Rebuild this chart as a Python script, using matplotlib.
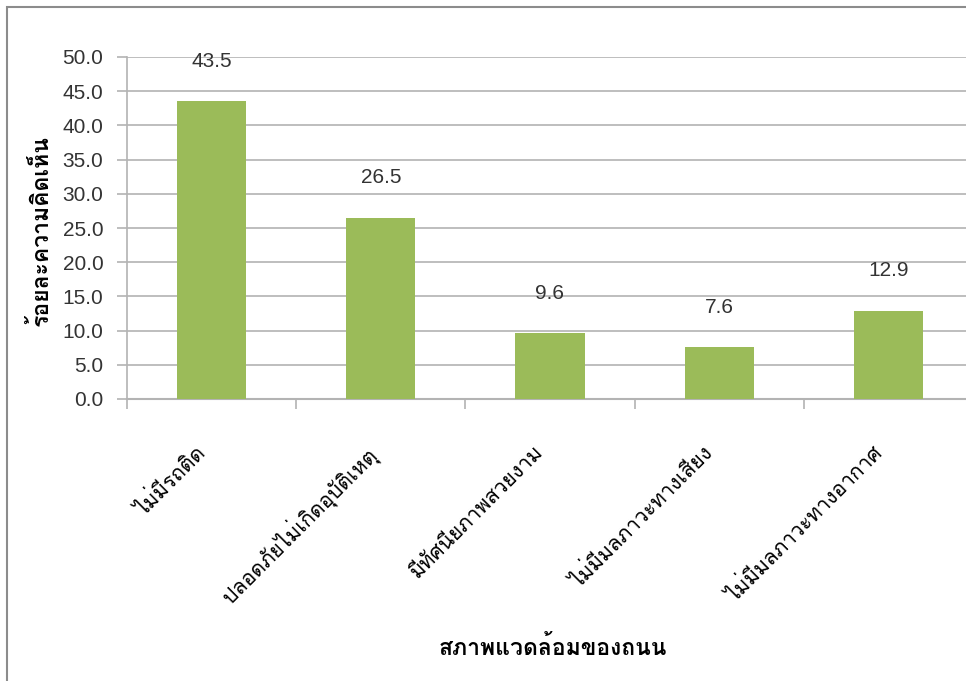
import matplotlib
matplotlib.use("Agg")
import matplotlib.pyplot as plt
import matplotlib.transforms as mtransforms
from matplotlib.patches import Rectangle
import numpy as np

categories = [
    'ไม่มีรถติด',
    'ปลอดภัยไม่เกิดอุบัติเหตุ',
    'มีทัศนียภาพสวยงาม',
    'ไม่มีมลภาวะทางเสียง',
    'ไม่มีมลภาวะทางอากาศ',
]
values = [43.5, 26.5, 9.6, 7.6, 12.9]
y_ticks = [0, 5, 10, 15, 20, 25, 30, 35, 40, 45, 50]

x_title = 'สภาพแวดล้อมของถนน'
y_title = 'ร้อยละความคิดเห็น'

bar_color = '#9BBB59'
grid_color = '#B3B3B3'
text_color = '#333333'
num_font = ['Liberation Sans', 'DejaVu Sans']
thai_font = ['Loma', 'DejaVu Sans']

fig = plt.figure(figsize=(9.66, 6.81), dpi=100)
W, H = 966, 681

# outer chart border (only top and left edges fall inside the image)
fig.patches.append(Rectangle((7 / W, -0.1), 1.2, 1 - 7 / H + 0.1,
                             transform=fig.transFigure, fill=False,
                             edgecolor='#8C8C8C', linewidth=1.5))

ax = fig.add_axes([127 / W, (H - 399) / H, 846 / W, 342 / H])
x = np.arange(len(categories))
ax.bar(x, values, width=0.41, color=bar_color, zorder=3)

ax.set_xlim(-0.5, len(categories) - 0.5)
ax.set_ylim(0, 50)
ax.set_yticks(y_ticks)
ax.set_yticklabels(['%.1f' % v for v in y_ticks], family=num_font,
                   fontsize=15, color=text_color)
ax.yaxis.grid(True, color=grid_color, linewidth=1.2, zorder=0)
ax.set_axisbelow(True)

for s in ['top', 'right']:
    ax.spines[s].set_visible(False)
ax.spines['left'].set_color(grid_color)
ax.spines['bottom'].set_color(grid_color)
ax.spines['left'].set_linewidth(1.2)
ax.spines['bottom'].set_linewidth(1.5)

ax.tick_params(axis='y', length=7, width=1.2, color=grid_color, pad=10)

# category separators on the x axis, names written separately
ax.set_xticks(np.arange(len(categories) + 1) - 0.5)
ax.set_xticklabels([])
ax.tick_params(axis='x', length=7, width=1.2, color=grid_color)

lab_off = mtransforms.ScaledTranslation(-17 / 100, -43 / 100, fig.dpi_scale_trans)
for xi, name in zip(x, categories):
    ax.text(xi, 0, name, transform=ax.get_xaxis_transform() + lab_off,
            rotation=45, rotation_mode='anchor', ha='right', va='top',
            family=thai_font, fontsize=15, color='black')

for xi, v in zip(x, values):
    ax.annotate('%.1f' % v, (xi, v), xytext=(0, 40 * 0.72),
                textcoords='offset points', ha='center', va='center',
                family=num_font, fontsize=15, color=text_color)

fig.text(40 / W, 1 - 231 / H, y_title, rotation=90, ha='center', va='center',
         family=thai_font, fontsize=16.5, fontweight='bold', color='black')
fig.text(553 / W, 1 - 647 / H, x_title, ha='center', va='center',
         family=thai_font, fontsize=16.5, fontweight='bold', color='black')

fig.savefig('out.png', dpi=100)
